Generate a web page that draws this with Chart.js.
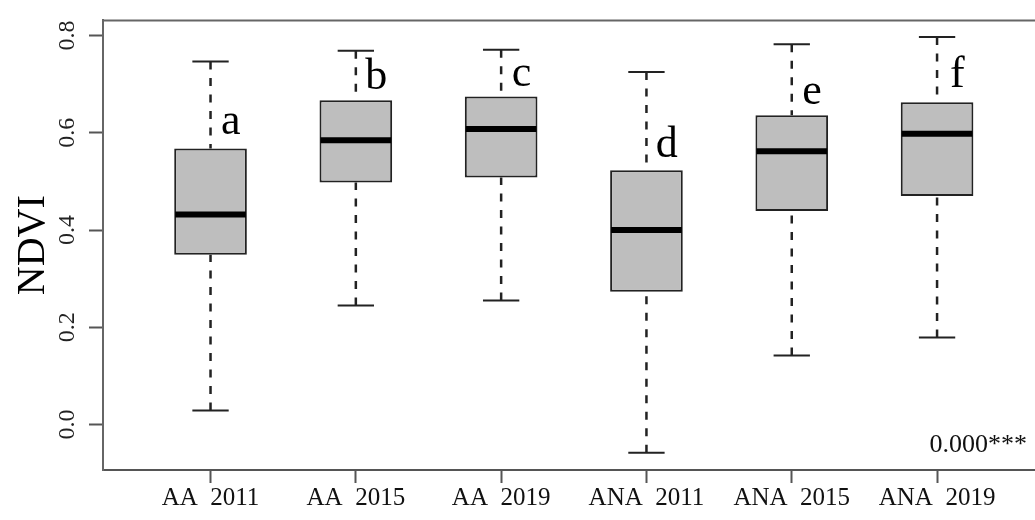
<!DOCTYPE html>
<html>
<head>
<meta charset="utf-8">
<script src="https://cdn.jsdelivr.net/npm/chart.js@4/dist/chart.umd.min.js"></script>
<style>
  html, body { margin: 0; padding: 0; background: #fff; }
  canvas { display: block; }
</style>
</head>
<body>
<canvas id="grafico" width="1035" height="520"></canvas>
<script>
// Categorias e estatísticas de cada caixa
const categorias = ['AA  2011', 'AA  2015', 'AA  2019', 'ANA  2011', 'ANA  2015', 'ANA  2019'];
const minimos  = [0.029, 0.245, 0.255, -0.058, 0.142, 0.179];
const q1       = [0.349, 0.498, 0.508, 0.273, 0.439, 0.470];
const medianas = [0.432, 0.585, 0.608, 0.400, 0.562, 0.598];
const q3       = [0.568, 0.667, 0.675, 0.523, 0.636, 0.663];
const maximos  = [0.747, 0.769, 0.771, 0.725, 0.782, 0.797];

// Letras de significância e altura da linha de base de cada uma
const letras  = ['a', 'b', 'c', 'd', 'e', 'f'];
const letrasY = [0.598, 0.690, 0.696, 0.551, 0.659, 0.695];

const ticksY = [0, 0.2, 0.4, 0.6, 0.8];
const pValor = '0.000***';

const serif = '"Liberation Serif", "Times New Roman", serif';

// Bigodes, medianas, letras e moldura superior
const caixas = {
  id: 'caixas',
  beforeDatasetsDraw(chart) {
    const { ctx, scales: { y } } = chart;
    const meta = chart.getDatasetMeta(0);
    ctx.save();
    ctx.strokeStyle = '#222';
    meta.data.forEach((bar, i) => {
      const yMin = y.getPixelForValue(minimos[i]);
      const yMax = y.getPixelForValue(maximos[i]);
      ctx.lineWidth = 2.5;
      ctx.setLineDash([8, 8.5]);
      ctx.beginPath();
      ctx.moveTo(bar.x, yMax);
      ctx.lineTo(bar.x, y.getPixelForValue(q3[i]));
      ctx.moveTo(bar.x, yMin);
      ctx.lineTo(bar.x, y.getPixelForValue(q1[i]));
      ctx.stroke();

      const meia = bar.width / 4;
      ctx.setLineDash([]);
      ctx.lineWidth = 2;
      ctx.beginPath();
      ctx.moveTo(bar.x - meia, yMax);
      ctx.lineTo(bar.x + meia, yMax);
      ctx.moveTo(bar.x - meia, yMin);
      ctx.lineTo(bar.x + meia, yMin);
      ctx.stroke();
    });
    ctx.restore();
  },
  afterDatasetsDraw(chart) {
    const { ctx, chartArea, scales: { x, y } } = chart;
    const meta = chart.getDatasetMeta(0);
    ctx.save();

    // medianas
    ctx.strokeStyle = '#000';
    ctx.lineWidth = 6;
    meta.data.forEach((bar, i) => {
      const py = y.getPixelForValue(medianas[i]);
      ctx.beginPath();
      ctx.moveTo(bar.x - bar.width / 2 + 1, py);
      ctx.lineTo(bar.x + bar.width / 2 - 1, py);
      ctx.stroke();
    });

    // letras
    ctx.fillStyle = '#000';
    ctx.font = `44px ${serif}`;
    ctx.textAlign = 'center';
    ctx.textBaseline = 'alphabetic';
    letras.forEach((l, i) => {
      ctx.fillText(l, x.getPixelForValue(i + 1.14), y.getPixelForValue(letrasY[i]));
    });

    // valor p
    ctx.font = `26px ${serif}`;
    ctx.fillStyle = '#111';
    ctx.textAlign = 'right';
    ctx.fillText(pValor, chartArea.right - 8, chartArea.bottom - 18);

    // moldura superior
    ctx.strokeStyle = '#666';
    ctx.lineWidth = 2;
    ctx.beginPath();
    ctx.moveTo(chartArea.left, chartArea.top);
    ctx.lineTo(chartArea.right, chartArea.top);
    ctx.stroke();
    ctx.restore();
  }
};

new Chart(document.getElementById('grafico'), {
  type: 'bar',
  data: {
    datasets: [{
      data: categorias.map((c, i) => ({ x: i + 1, y: [q1[i], q3[i]] })),
      backgroundColor: '#bebebe',
      borderColor: '#222',
      borderWidth: 2,
      borderSkipped: false,
      barPercentage: 0.5,
      categoryPercentage: 1
    }]
  },
  options: {
    responsive: false,
    animation: false,
    layout: { padding: { top: 15, left: 0, right: 0, bottom: 0 } },
    plugins: { legend: { display: false }, tooltip: { enabled: false } },
    scales: {
      x: {
        type: 'linear',
        offset: false,
        min: 0.26,
        max: 6.674,
        afterBuildTicks: s => { s.ticks = categorias.map((c, i) => ({ value: i + 1 })); },
        afterFit: s => { s.height = 50; },
        ticks: {
          callback: v => categorias[v - 1],
          maxRotation: 0,
          autoSkip: false,
          padding: 0,
          color: '#111',
          font: { family: serif, size: 25 }
        },
        grid: { offset: false, drawOnChartArea: false, tickLength: 13, tickColor: '#555', tickWidth: 2 },
        border: { color: '#555', width: 2 }
      },
      y: {
        min: -0.0936,
        max: 0.8313,
        afterBuildTicks: s => { s.ticks = ticksY.map(v => ({ value: v })); },
        afterFit: s => { s.width = 103; },
        ticks: {
          callback: v => v.toFixed(1),
          minRotation: 90,
          maxRotation: 90,
          crossAlign: 'center',
          padding: 6,
          color: '#222',
          font: { family: serif, size: 24 }
        },
        grid: { drawOnChartArea: false, tickLength: 14, tickColor: '#555', tickWidth: 2 },
        border: { color: '#666', width: 2 },
        title: {
          display: true,
          text: 'NDVI',
          color: '#000',
          font: { family: serif, size: 40 },
          padding: { top: 9, bottom: 0 }
        }
      }
    }
  },
  plugins: [caixas]
});
</script>
</body>
</html>
